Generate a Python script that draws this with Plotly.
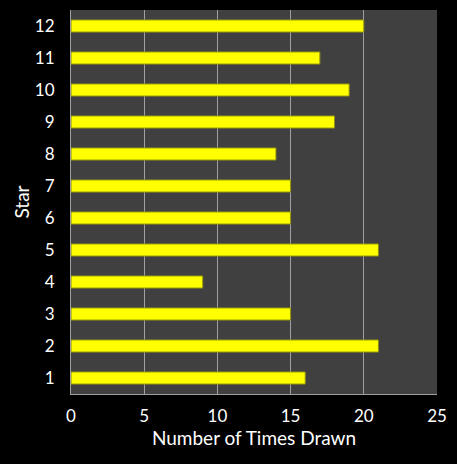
import plotly.graph_objects as go

stars = [1, 2, 3, 4, 5, 6, 7, 8, 9, 10, 11, 12]
times_drawn = [16, 21, 15, 9, 21, 15, 15, 14, 18, 19, 17, 20]

fig = go.Figure()
fig.add_trace(go.Bar(
    x=times_drawn,
    y=[str(s) for s in stars],
    orientation="h",
    marker=dict(color="#ffff00", line=dict(color="#8c8c10", width=1)),
))

fig.update_layout(
    width=457, height=464,
    paper_bgcolor="#000000",
    plot_bgcolor="#404040",
    margin=dict(l=71, r=20, t=10, b=70, autoexpand=False),
    bargap=0.62,
    showlegend=False,
    font=dict(family="Lato", color="#ffffff", size=17),
)
fig.update_xaxes(
    range=[0, 25], dtick=5,
    showgrid=True, gridcolor="#a0a0a0", gridwidth=1,
    showline=True, linecolor="#a0a0a0", linewidth=1,
    zeroline=False, ticks="", ticklabelstandoff=7,
    title=dict(text="Number of Times Drawn", font=dict(size=19), standoff=4),
    automargin=False,
)
fig.update_yaxes(
    type="category",
    showgrid=False,
    showline=True, linecolor="#a0a0a0", linewidth=1,
    ticks="", ticklabelstandoff=12,
    title=dict(text="Star", font=dict(size=19), standoff=0),
    automargin=False,
)

# drop the default white body margin so the black page fills the window
fig.write_html("out.html",
               config={"displayModeBar": False},
               post_script="document.body.style.margin='0';document.body.style.background='#000';")
